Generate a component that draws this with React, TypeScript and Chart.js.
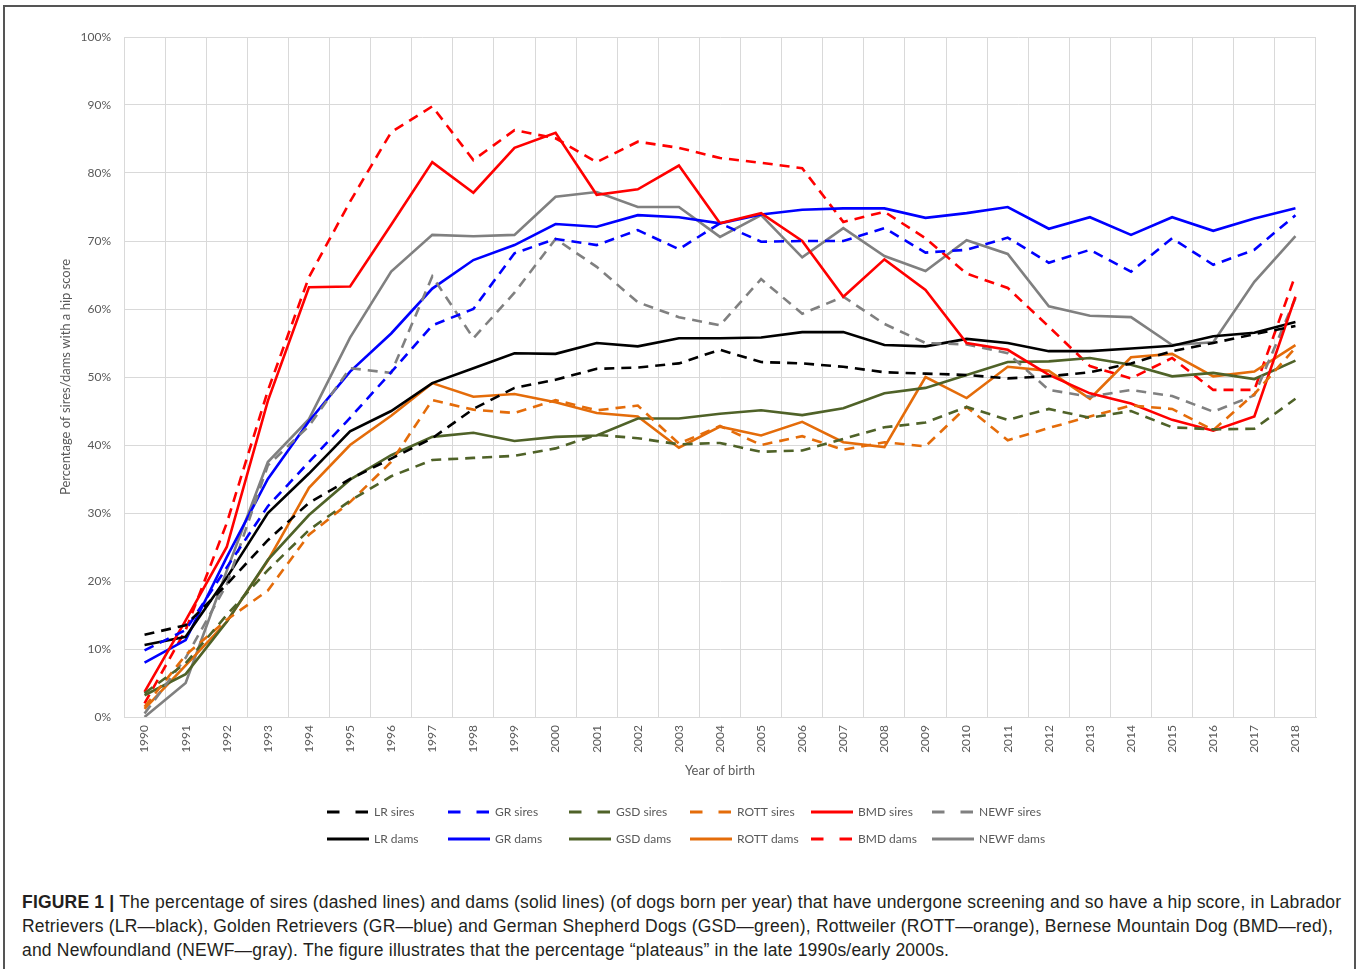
import React, { useEffect, useRef } from "react";
import { Chart, registerables } from "chart.js";

Chart.register(...registerables);

const years = ["1990","1991","1992","1993","1994","1995","1996","1997","1998","1999","2000","2001","2002","2003","2004","2005","2006","2007","2008","2009","2010","2011","2012","2013","2014","2015","2016","2017","2018"];

const lrSires = [12.1,13.5,19.5,26,31.5,35,38,41,45.3,48.4,49.6,51.2,51.4,52,54,52.2,52,51.5,50.7,50.5,50.3,49.8,50.1,50.7,52,53.8,55,56.3,57.5];
const grSires = [9.8,12.8,22,31,37.5,44,50.7,57.6,60,68.2,70.3,69.4,71.6,68.8,72.6,69.9,70,70,71.9,68.3,68.7,70.5,66.8,68.7,65.5,70.4,66.5,68.7,73.8];
const gsdSires = [3.5,7.9,15,21.6,27.5,31.8,35.4,37.8,38.1,38.4,39.5,41.5,41,40.1,40.3,39,39.2,40.9,42.6,43.3,45.6,43.7,45.3,44,45,42.6,42.3,42.4,46.8];
const rottSires = [1.5,9.1,14.3,18.6,26.8,31.6,37.5,46.6,45.2,44.7,46.6,45.1,45.8,40.2,42.8,40,41.3,39.3,40.4,39.8,45.6,40.7,42.5,44.2,45.8,45.3,42.2,47.5,54.3];
const bmdSires = [3.7,14.2,25,46.5,63.2,63.3,72.4,81.6,77.1,83.7,85.9,76.8,77.6,81.1,72.6,74.1,70,61.8,67.3,62.8,55,54,50.3,47.6,46.1,43.7,42.1,44.2,61.8];
const newfSires = [0.5,8.7,19.5,37,42.8,51.3,50.6,64.8,55.7,62.4,70.3,66.2,61,58.8,57.6,64.4,59.3,61.8,57.8,55,54.8,53.5,48.1,47.1,48.1,47.2,44.9,47.3,61.6];

const lrDams = [10.6,11.8,20.5,30,35.8,42,45,49.1,51.3,53.5,53.4,55,54.5,55.7,55.7,55.8,56.6,56.6,54.7,54.5,55.6,55,53.8,53.8,54.2,54.6,56,56.5,58.1];
const grDams = [8,11.3,23.5,35,43.5,50.8,56.4,63,67.2,69.4,72.5,72.1,73.8,73.5,72.6,73.9,74.6,74.8,74.8,73.4,74.1,75,71.8,73.5,70.9,73.5,71.5,73.3,74.8];
const gsdDams = [3.2,6.3,14,23.1,29.7,34.9,38.5,41.2,41.8,40.6,41.2,41.4,43.9,43.9,44.6,45.1,44.4,45.4,47.6,48.4,50.3,52.2,52.3,52.8,51.8,50.1,50.6,49.7,52.4];
const rottDams = [1.2,7.6,14,23,33.7,40,44.3,49.1,47.1,47.5,46.3,44.7,44.2,39.6,42.7,41.4,43.4,40.4,39.7,50,46.9,51.5,50.9,46.8,52.9,53.4,50.1,50.8,54.7];
const bmdDams = [2,12.8,28.5,48,64.7,75.8,86,89.8,81.9,86.3,85.1,81.6,84.6,83.7,82.2,81.5,80.7,72.8,74.3,70.4,65.2,63.1,57.4,51.6,49.8,52.8,48.1,48.1,65];
const newfDams = [0,5,21.5,37.5,43.8,55.8,65.5,70.9,70.7,70.9,76.5,77.2,75,75,70.6,73.8,67.6,71.9,67.8,65.6,70.1,68.1,60.4,59,58.8,54.7,55.1,64,70.7];

const BLACK = "#000000";
const BLUE = "#0000FF";
const GREEN = "#4F6228";
const ORANGE = "#E46C0A";
const RED = "#FF0000";
const GRAY = "#808080";

const DASH = [10, 7];

const seriesDefs = [
  { label: "LR sires", data: lrSires, color: BLACK, dashed: true },
  { label: "GR sires", data: grSires, color: BLUE, dashed: true },
  { label: "GSD sires", data: gsdSires, color: GREEN, dashed: true },
  { label: "ROTT sires", data: rottSires, color: ORANGE, dashed: true },
  { label: "BMD sires", data: bmdSires, color: RED, dashed: false },
  { label: "NEWF sires", data: newfSires, color: GRAY, dashed: true },
  { label: "LR dams", data: lrDams, color: BLACK, dashed: false },
  { label: "GR dams", data: grDams, color: BLUE, dashed: false },
  { label: "GSD dams", data: gsdDams, color: GREEN, dashed: false },
  { label: "ROTT dams", data: rottDams, color: ORANGE, dashed: false },
  { label: "BMD dams", data: bmdDams, color: RED, dashed: true },
  { label: "NEWF dams", data: newfDams, color: GRAY, dashed: false },
];

const TEXT_COLOR = "#595959";
const FONT_FAMILY = "Lato, 'Open Sans', sans-serif";

const legendPlugin = {
  id: "gridLegend",
  afterDraw(chart: any) {
    const ctx = chart.ctx;
    const area = chart.chartArea;
    const datasets = chart.data.datasets;
    ctx.save();
    datasets.forEach((ds: any, i: number) => {
      const col = i % 6;
      const row = Math.floor(i / 6);
      const x = area.left + 203 + col * 121;
      const y = area.bottom + 95 + row * 27;
      ctx.strokeStyle = ds.borderColor;
      ctx.lineWidth = 3;
      ctx.lineCap = "butt";
      ctx.setLineDash(ds.borderDash && ds.borderDash.length ? [12.5, 16] : []);
      ctx.beginPath();
      ctx.moveTo(x, y);
      ctx.lineTo(x + 42, y);
      ctx.stroke();
      ctx.setLineDash([]);
      ctx.fillStyle = TEXT_COLOR;
      ctx.font = "12px " + FONT_FAMILY;
      ctx.textBaseline = "middle";
      ctx.textAlign = "left";
      ctx.fillText(ds.label, x + 47, y);
    });
    ctx.restore();
  },
};

function HipChart() {
  const ref = useRef<HTMLCanvasElement | null>(null);
  useEffect(() => {
    if (!ref.current) return;
    const chart = new Chart(ref.current, {
      type: "line",
      data: {
        labels: years,
        datasets: seriesDefs.map((s) => ({
          label: s.label,
          data: s.data,
          borderColor: s.color,
          backgroundColor: s.color,
          borderDash: s.dashed ? DASH : [],
          borderWidth: 2.6,
          pointRadius: 0,
          tension: 0,
          fill: false,
        })),
      },
      options: {
        animation: false,
        responsive: false,
        maintainAspectRatio: false,
        layout: { padding: { left: 54, right: 42, top: 37, bottom: 87 } },
        plugins: {
          legend: { display: false },
          tooltip: { enabled: false },
        },
        scales: {
          x: {
            type: "category",
            offset: true,
            grid: { offset: true, color: "#d9d9d9", drawTicks: false, lineWidth: 1 },
            border: { color: "#d9d9d9" },
            ticks: {
              autoSkip: false,
              minRotation: 90,
              maxRotation: 90,
              padding: 8,
              color: TEXT_COLOR,
              font: { family: FONT_FAMILY, size: 12 },
            },
            title: {
              display: true,
              text: "Year of birth",
              color: TEXT_COLOR,
              font: { family: FONT_FAMILY, size: 13 },
              padding: { top: 4, bottom: 4 },
            },
            afterFit: (s: any) => {
              s.height = 66;
            },
          },
          y: {
            min: 0,
            max: 100,
            grid: { color: "#d9d9d9", drawTicks: false, lineWidth: 1 },
            border: { color: "#d9d9d9" },
            ticks: {
              stepSize: 10,
              padding: 13,
              color: TEXT_COLOR,
              font: { family: FONT_FAMILY, size: 12 },
              callback: (v: any) => v + "%",
            },
            title: {
              display: true,
              text: "Percentage of sires/dams with a hip score",
              color: TEXT_COLOR,
              font: { family: FONT_FAMILY, size: 13 },
              padding: { top: 4, bottom: 4 },
            },
            afterFit: (s: any) => {
              s.width = 70;
            },
          },
        },
      },
      plugins: [legendPlugin],
    } as any);
    return () => chart.destroy();
  }, []);
  return (
    <canvas
      ref={ref}
      width={1358}
      height={870}
      style={{ position: "absolute", left: 0, top: 0, width: 1358, height: 870, display: "block" }}
    />
  );
}

export default function App() {
  return (
    <div style={{ position: "absolute", left: 0, top: 0, width: 1358, height: 969, overflow: "hidden", background: "#fff" }}>
      <div
        style={{
          position: "absolute",
          left: 3,
          top: 5,
          width: 1353,
          height: 1000,
          border: "2px solid #555",
          boxSizing: "border-box",
        }}
      />
      <HipChart />
      <div
        style={{
          position: "absolute",
          left: 22,
          top: 890,
          fontFamily: "'Liberation Sans', Arial, sans-serif",
          fontSize: 17.5,
          letterSpacing: "0.2px",
          lineHeight: "24px",
          color: "#231f20",
          whiteSpace: "nowrap",
        }}
      >
        <b>FIGURE 1 |</b> The percentage of sires (dashed lines) and dams (solid lines) (of dogs born per year) that have undergone screening and so have a hip score, in Labrador
        <br />
        Retrievers (LR—black), Golden Retrievers (GR—blue) and German Shepherd Dogs (GSD—green), Rottweiler (ROTT—orange), Bernese Mountain Dog (BMD—red),
        <br />
        and Newfoundland (NEWF—gray). The figure illustrates that the percentage “plateaus” in the late 1990s/early 2000s.
      </div>
    </div>
  );
}
